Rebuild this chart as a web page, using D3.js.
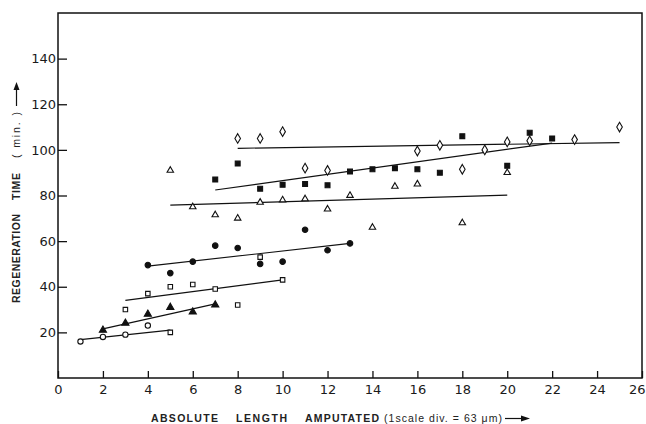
<!DOCTYPE html>
<html>
<head>
<meta charset="utf-8">
<script src="https://cdn.jsdelivr.net/npm/d3@7"></script>
<style>
  body { margin: 0; background: #fff; }
  svg { display: block; }
  .axis text { font-family: "DejaVu Sans", sans-serif; font-size: 13px; fill: #1a1a1a; }
  .axis path, .axis line { stroke: #111; }
  .label { font-family: "Liberation Sans", sans-serif; font-size: 10.5px; font-weight: bold; fill: #222; }
</style>
</head>
<body>
<div id="chart"></div>
<script>
// values: [length, time]
const openCircles = [[1, 16], [2, 18], [3, 19], [4, 23]];
const filledTriangles = [[2, 21], [3, 24], [4, 28], [5, 31], [6, 29], [7, 32]];
const openSquares = [[3, 30], [4, 37], [5, 40], [5, 20], [6, 41], [7, 39], [8, 32], [9, 53], [10, 43]];
const filledCircles = [[4, 49.5], [5, 46], [6, 51], [7, 58], [8, 57], [9, 50], [10, 51], [11, 65], [12, 56], [13, 59]];
const openTriangles = [[5, 91], [6, 75], [7, 71.5], [8, 70], [9, 77], [10, 78], [11, 78.5], [12, 74], [13, 80],
  [14, 66], [15, 84], [16, 85], [18, 68], [20, 90]];
const filledSquares = [[7, 87], [8, 94], [9, 83], [10, 84.7], [11, 85], [12, 84.5], [13, 90.5], [14, 91.5],
  [15, 92], [16, 91.5], [17, 90], [18, 106], [20, 93], [21, 107.5], [22, 105]];
const openDiamonds = [[8, 105], [9, 105], [10, 108], [11, 92], [12, 91], [16, 99.5], [17, 102], [18, 91.5],
  [19, 100], [20, 103.5], [21, 104], [23, 104.5], [25, 110]];

// fitted lines drawn on the figure: [x1, y1, x2, y2]
const fitLines = [
  [1, 16.8, 5, 21],
  [2, 21.5, 7, 32.5],
  [3, 34, 10, 43],
  [4, 49, 13, 59],
  [5, 75.8, 20, 80.2],
  [7, 82.4, 22, 103],
  [8, 100.7, 25, 103.2]
];

const xTicks = d3.range(0, 27, 2);
const yTicks = [20, 40, 60, 80, 100, 120, 140];

const width = 646, height = 424;
const x = d3.scaleLinear().domain([0, 26]).range([58, 642]);
const y = d3.scaleLinear().domain([0, 160]).range([378, 13]);

const svg = d3.select("#chart").append("svg")
  .attr("width", width)
  .attr("height", height);

// frame
svg.append("rect")
  .attr("x", x(0)).attr("y", y(160))
  .attr("width", x(26) - x(0)).attr("height", y(0) - y(160))
  .attr("fill", "none").attr("stroke", "#111").attr("stroke-width", 1.5);

const xAxis = svg.append("g")
  .attr("class", "axis")
  .attr("transform", `translate(0,${y(0)})`)
  .call(d3.axisBottom(x).tickValues(xTicks).tickSize(-7).tickPadding(7).tickFormat(d3.format("d")));
xAxis.select(".domain").remove();
xAxis.selectAll("line").attr("stroke-width", 1.3);
// last label sits against the right edge of the page
xAxis.selectAll(".tick text").filter(d => d === 26)
  .attr("text-anchor", "end").attr("dx", 3);

const yAxis = svg.append("g")
  .attr("class", "axis")
  .attr("transform", `translate(${x(0)},0)`)
  .call(d3.axisLeft(y).tickValues(yTicks).tickSize(-9).tickPadding(2).tickFormat(d3.format("d")));
yAxis.select(".domain").remove();
yAxis.selectAll("line").attr("stroke-width", 1.3);

// fit lines
svg.append("g").selectAll("line")
  .data(fitLines)
  .join("line")
  .attr("x1", d => x(d[0])).attr("y1", d => y(d[1]))
  .attr("x2", d => x(d[2])).attr("y2", d => y(d[3]))
  .attr("stroke", "#111").attr("stroke-width", 1.2);

const diamond = "M0,-4.8L2.8,0L0,4.8L-2.8,0Z";
const series = [
  {data: openCircles, path: d3.symbol(d3.symbolCircle, 22)(), fill: "#fff"},
  {data: filledTriangles, path: d3.symbol(d3.symbolTriangle, 22)(), fill: "#111"},
  {data: openSquares, path: d3.symbol(d3.symbolSquare, 20)(), fill: "#fff"},
  {data: filledCircles, path: d3.symbol(d3.symbolCircle, 24)(), fill: "#111"},
  {data: openTriangles, path: d3.symbol(d3.symbolTriangle, 18)(), fill: "#fff"},
  {data: filledSquares, path: d3.symbol(d3.symbolSquare, 24)(), fill: "#111"},
  {data: openDiamonds, path: diamond, fill: "#fff"}
];

series.forEach(s => {
  svg.append("g").selectAll("path")
    .data(s.data)
    .join("path")
    .attr("transform", d => `translate(${x(d[0])},${y(d[1])})`)
    .attr("d", s.path)
    .attr("fill", s.fill)
    .attr("stroke", "#111")
    .attr("stroke-width", 1.1);
});

// axis titles, one text per word group so the wide spacing of the lettering holds
const xWords = [
  {text: "ABSOLUTE", from: 151, to: 218},
  {text: "LENGTH", from: 236, to: 287},
  {text: "AMPUTATED", from: 305, to: 379},
  {text: "(1scale div. = 63 μm)", from: 384, to: 502}
];
svg.append("g").selectAll("text")
  .data(xWords)
  .join("text")
  .attr("class", "label")
  .attr("x", d => d.from).attr("y", 422)
  .attr("textLength", d => d.to - d.from)
  .attr("lengthAdjust", "spacing")
  .style("font-weight", d => d.text.startsWith("(") ? "normal" : "bold")
  .text(d => d.text);
svg.append("path")
  .attr("d", "M505,418.5H526")
  .attr("stroke", "#111").attr("stroke-width", 1.2);
svg.append("path")
  .attr("d", "M530,418.5L521,415.5L521,421.5Z")
  .attr("fill", "#111");

const yWords = [
  {text: "REGENERATION", from: 303, to: 214},
  {text: "TIME", from: 200, to: 173},
  {text: "( min. )", from: 158, to: 112}
];
svg.append("g").selectAll("text")
  .data(yWords)
  .join("text")
  .attr("class", "label")
  .attr("transform", d => `translate(20,${d.from}) rotate(-90)`)
  .attr("textLength", d => d.from - d.to)
  .attr("lengthAdjust", "spacing")
  .style("font-weight", d => d.text.startsWith("(") ? "normal" : "bold")
  .text(d => d.text);
svg.append("path")
  .attr("d", "M16.5,106V88")
  .attr("stroke", "#111").attr("stroke-width", 1.2);
svg.append("path")
  .attr("d", "M16.5,82L13.5,90L19.5,90Z")
  .attr("fill", "#111");
</script>
</body>
</html>
